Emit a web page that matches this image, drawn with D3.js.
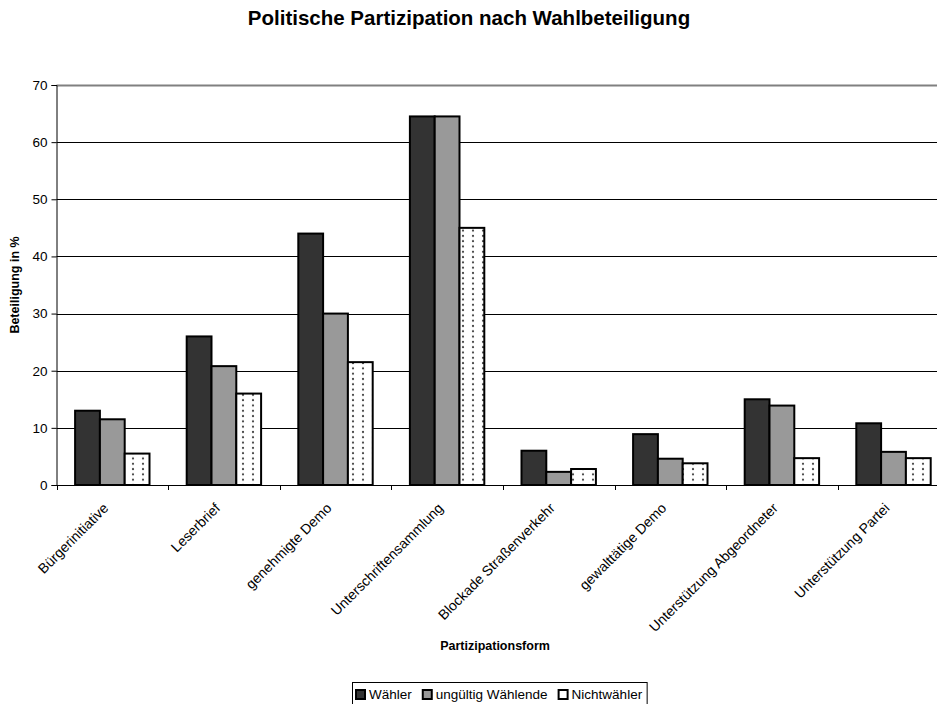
<!DOCTYPE html>
<html>
<head>
<meta charset="utf-8">
<script src="https://cdn.jsdelivr.net/npm/d3@7"></script>
<style>
  html, body { margin: 0; padding: 0; background: #fff; }
  svg { display: block; font-family: "Liberation Sans", Arial, sans-serif; }
</style>
</head>
<body>
<svg id="chart" width="937" height="704"></svg>
<script>
// Participation forms (x categories)
const categories = [
  "Bürgerinitiative",
  "Leserbrief",
  "genehmigte Demo",
  "Unterschriftensammlung",
  "Blockade Straßenverkehr",
  "gewalttätige Demo",
  "Unterstützung Abgeordneter",
  "Unterstützung Partei"
];

// Series names and values in percent
const seriesNames = ["Wähler", "ungültig Wählende", "Nichtwähler"];
const waehler     = [13, 26, 44, 64.5, 6, 8.9, 15, 10.8];
const ungueltig   = [11.5, 20.8, 30, 64.5, 2.3, 4.6, 13.9, 5.8];
const nichtwaehler = [5.5, 16, 21.5, 45, 2.8, 3.8, 4.7, 4.7];

const yTicks = [0, 10, 20, 30, 40, 50, 60, 70];

const series = [waehler, ungueltig, nichtwaehler];

const svg = d3.select("#chart");

// Dot pattern for the non-voter bars
const defs = svg.append("defs");
const pat = defs.append("pattern")
  .attr("id", "dots")
  .attr("patternUnits", "userSpaceOnUse")
  .attr("width", 10)
  .attr("height", 5.3);
pat.append("rect").attr("width", 10).attr("height", 5.3).attr("fill", "#fff");
pat.append("circle").attr("cx", 3).attr("cy", 2.6).attr("r", 1.1).attr("fill", "#444");

const fills = ["#333333", "#999999", "url(#dots)"];
const swatchFills = ["#333333", "#999999", "#ffffff"];

const plotLeft = 56.5, plotTop = 85, plotBottom = 485;
const bandW = 111.6;
const plotRight = plotLeft + bandW * categories.length;

const x = d3.scaleBand()
  .domain(categories)
  .range([plotLeft, plotRight])
  .padding(0);

const xs = d3.scaleBand()
  .domain(d3.range(series.length))
  .range([bandW / 6, bandW * 5 / 6])
  .padding(0);

const y = d3.scaleLinear()
  .domain([0, 70])
  .range([plotBottom, plotTop]);

// Title
svg.append("text")
  .attr("x", 469)
  .attr("y", 25)
  .attr("text-anchor", "middle")
  .attr("font-size", 20.5)
  .attr("font-weight", "bold")
  .text("Politische Partizipation nach Wahlbeteiligung");

// Horizontal grid lines
svg.append("g")
  .selectAll("line")
  .data(yTicks.filter(t => t > 0))
  .join("line")
  .attr("x1", plotLeft)
  .attr("x2", plotRight)
  .attr("y1", d => Math.round(y(d)) + 0.5)
  .attr("y2", d => Math.round(y(d)) + 0.5)
  .attr("stroke", d => d === 70 ? "#808080" : "#000")
  .attr("stroke-width", d => d === 70 ? 2 : 1);

// Bars
const groups = svg.append("g")
  .selectAll("g")
  .data(series)
  .join("g");

groups.each(function (vals, si) {
  d3.select(this)
    .selectAll("rect")
    .data(vals)
    .join("rect")
    .attr("x", (d, i) => x(categories[i]) + xs(si))
    .attr("width", xs.bandwidth())
    .attr("y", d => y(d))
    .attr("height", d => y(0) - y(d))
    .attr("fill", fills[si])
    .attr("stroke", "#000")
    .attr("stroke-width", 2);
});

// Y axis
const yAxis = d3.axisLeft(y)
  .tickValues(yTicks)
  .tickSize(5)
  .tickPadding(4)
  .tickFormat(d3.format("d"));
const gy = svg.append("g")
  .attr("transform", `translate(${plotLeft},0)`)
  .call(yAxis);
gy.select(".domain").attr("stroke", "#000");
gy.selectAll(".tick line").attr("stroke", "#000");
gy.selectAll(".tick text")
  .attr("font-size", 13.5)
  .attr("font-family", "Liberation Sans, Arial, sans-serif")
  .attr("fill", "#000");

// X axis: ticks at category boundaries
const boundaries = d3.range(categories.length + 1).map(i => plotLeft + i * bandW);
svg.append("line")
  .attr("x1", plotLeft).attr("x2", plotRight)
  .attr("y1", plotBottom + 0.5).attr("y2", plotBottom + 0.5)
  .attr("stroke", "#000");
svg.append("g")
  .selectAll("line")
  .data(boundaries)
  .join("line")
  .attr("x1", d => Math.round(d) + 0.5)
  .attr("x2", d => Math.round(d) + 0.5)
  .attr("y1", plotBottom)
  .attr("y2", plotBottom + 5)
  .attr("stroke", "#000");

// Category labels, rotated
svg.append("g")
  .selectAll("text")
  .data(categories)
  .join("text")
  .attr("text-anchor", "end")
  .attr("font-size", 14)
  .attr("transform", d => `translate(${x(d) + x.bandwidth() / 2 - 3},${plotBottom + 24}) rotate(-45)`)
  .text(d => d);

// Axis titles
svg.append("text")
  .attr("x", 495)
  .attr("y", 650)
  .attr("text-anchor", "middle")
  .attr("font-size", 12.5)
  .attr("font-weight", "bold")
  .text("Partizipationsform");

svg.append("text")
  .attr("transform", "translate(19,285) rotate(-90)")
  .attr("text-anchor", "middle")
  .attr("font-size", 12.5)
  .attr("font-weight", "bold")
  .text("Beteiligung in %");

// Legend
const legend = svg.append("g");
const legendBox = legend.append("rect")
  .attr("x", 352.5).attr("y", 682.5)
  .attr("height", 24)
  .attr("fill", "#fff")
  .attr("stroke", "#000");

let lx = 356;
seriesNames.forEach((name, i) => {
  legend.append("rect")
    .attr("x", lx).attr("y", 690)
    .attr("width", 9).attr("height", 9)
    .attr("fill", swatchFills[i])
    .attr("stroke", "#000")
    .attr("stroke-width", 2);
  const t = legend.append("text")
    .attr("x", lx + 13).attr("y", 699)
    .attr("font-size", 13.5)
    .text(name);
  lx += 13 + t.node().getComputedTextLength() + 11;
});
legendBox.attr("width", lx - 11 + 5 - 352.5);
</script>
</body>
</html>
